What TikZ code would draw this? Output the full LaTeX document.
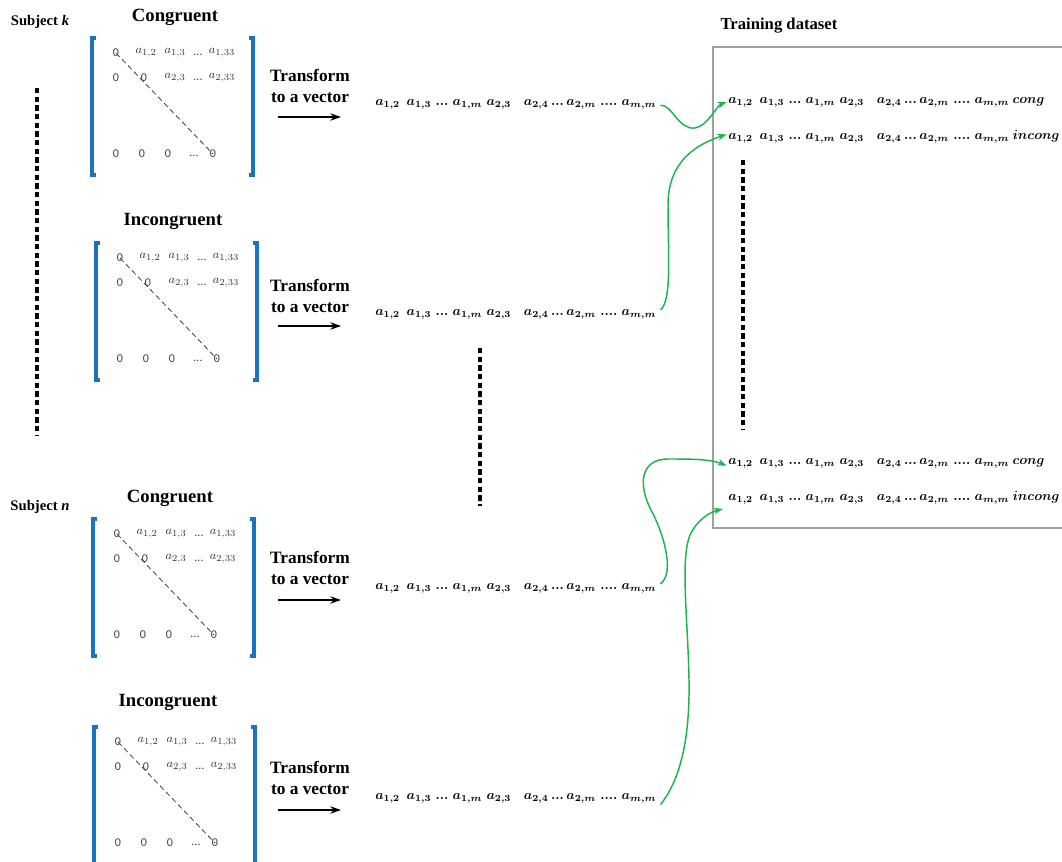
\documentclass[tikz,border=0pt]{standalone}
\usepackage{fontspec}
\usepackage{amsmath}
\setmainfont{Liberation Serif}
\newfontfamily\calib{Carlito}
\usetikzlibrary{arrows.meta}
\definecolor{bblue}{HTML}{1B72C0}
\definecolor{ggreen}{HTML}{1DB350}
\definecolor{boxgray}{HTML}{A0A0A0}
\tikzset{
  ttl/.style={font=\fontsize{12.5}{14}\selectfont\bfseries, inner sep=0},
  mttl/.style={font=\fontsize{14}{16}\selectfont\bfseries, inner sep=0},
  subj/.style={font=\fontsize{11}{13}\selectfont\bfseries, inner sep=0},
  vecrow/.style={anchor=west, font=\fontsize{10}{12}\selectfont\boldmath, inner sep=0},
  mel/.style={font=\fontsize{9}{10}\selectfont\calib, text=black!75, inner sep=0.5pt},
  mela/.style={font=\fontsize{9.5}{10}\selectfont, text=black!80, inner sep=0.5pt},
  bracket/.style={draw=bblue, line width=2.3pt},
  tarrow/.style={-{Stealth[length=8pt,width=5.5pt]}, line width=1.3pt},
  garrow/.style={draw=ggreen, line width=1.1pt, -{Stealth[length=7pt,width=5pt]}},
  dotl/.style={line width=2.4pt, dash pattern=on 4pt off 2.5pt},
  diagl/.style={draw=black!75, line width=0.6pt, dash pattern=on 4pt off 2.5pt},
  trtext/.style={font=\fontsize{13}{15.5}\selectfont\bfseries, align=center, inner sep=0},
}
\newcommand\dts{{.}{.}{.}}
\newcommand\vecline{$a_{1,2}\;\,a_{1,3}\;\dts\;a_{1,m}\;a_{2,3}\;\;\;a_{2,4}\,\dts\,a_{2,m}\;\dts{.}\;a_{m,m}$}
\newcommand\mymat[3]{%
  \begin{scope}[shift={(#2,#3)}]
    \draw[bracket] (4,0) -- (0,0) -- (0,137) -- (4,137);
    \draw[bracket] (157,0) -- (161,0) -- (161,137) -- (157,137);
    \node[mel]  (#1z11) at (24,15) {0};
    \node[mela] (#1a12) at (54,15) {$a_{1,2}$};
    \node[mela] (#1a13) at (83,15) {$a_{1,3}$};
    \node[mel]  (#1d1)  at (106,17) {...};
    \node[mela] (#1a1n) at (130,15) {$a_{1,33}$};
    \node[mel]  (#1z21) at (24,40) {0};
    \node[mel]  (#1z22) at (52,40) {0};
    \node[mela] (#1a23) at (83,40) {$a_{2,3}$};
    \node[mel]  (#1d2)  at (106,42) {...};
    \node[mela] (#1a2n) at (130,40) {$a_{2,33}$};
    \node[mel]  (#1z31) at (24,116) {0};
    \node[mel]  (#1z32) at (50,116) {0};
    \node[mel]  (#1z33) at (76,116) {0};
    \node[mel]  (#1d3)  at (102,118) {...};
    \node[mel]  (#1z35) at (121,116) {0};
    \draw[diagl] (#1z11.center) -- (#1z35.center);
  \end{scope}}
\begin{document}
\begin{tikzpicture}[x=0.75pt,y=-0.75pt]
\useasboundingbox (0,0) rectangle (1062,862);

% subjects
\node[subj] (sk) at (40,22) {Subject \textit{k}};
\node[subj] (sn) at (40,507) {Subject \textit{n}};
\coordinate (dk1) at (37,88);
\coordinate (dk2) at (37,436);
\draw[dotl] (dk1) -- (dk2);

% titles
\node[mttl] (h1) at (175,17) {Congruent};
\node[mttl] (h2) at (173,221) {Incongruent};
\node[mttl] (h3) at (170,498) {Congruent};
\node[mttl] (h4) at (168,702) {Incongruent};

% matrices
\mymat{m1}{92}{38}
\mymat{m2}{96}{243}
\mymat{m3}{93}{519}
\mymat{m4}{94}{727}

% transform labels and arrows
\node[trtext] (tr1) at (310,86) {Transform\\to a vector};
\node[trtext] (tr2) at (310,296) {Transform\\to a vector};
\node[trtext] (tr3) at (310,568) {Transform\\to a vector};
\node[trtext] (tr4) at (310,778) {Transform\\to a vector};
\coordinate (ts1) at (278,117); \coordinate (te1) at (341,117);
\coordinate (ts2) at (278,326); \coordinate (te2) at (341,326);
\coordinate (ts3) at (278,600); \coordinate (te3) at (341,600);
\coordinate (ts4) at (278,810); \coordinate (te4) at (341,810);
\draw[tarrow] (ts1) -- (te1);
\draw[tarrow] (ts2) -- (te2);
\draw[tarrow] (ts3) -- (te3);
\draw[tarrow] (ts4) -- (te4);

% vectors
\node[vecrow] (v1) at (375,104) {\vecline};
\node[vecrow] (v2) at (375,314) {\vecline};
\node[vecrow] (v3) at (375,588) {\vecline};
\node[vecrow] (v4) at (375,798) {\vecline};

% middle dotted line
\coordinate (dm1) at (480,348);
\coordinate (dm2) at (480,506);
\draw[dotl] (dm1) -- (dm2);

% training dataset box
\node[ttl] (tdt) at (779,26) {Training dataset};
\coordinate (bx1) at (1062,47);
\coordinate (bx2) at (713,47);
\coordinate (bx3) at (713,528);
\coordinate (bx4) at (1062,528);
\draw[draw=boxgray, line width=1pt] (bx1) -- (bx2) -- (bx3) -- (bx4);

\node[vecrow] (t1) at (728,102) {\vecline\ $cong$};
\node[vecrow] (t2) at (728,137) {\vecline\ $incong$};
\node[vecrow] (t3) at (728,463) {\vecline\ $cong$};
\node[vecrow] (t4) at (728,498) {\vecline\ $incong$};
\coordinate (dt1) at (743,160);
\coordinate (dt2) at (743,430);
\draw[dotl] (dt1) -- (dt2);

% green arrows
\coordinate (g4e) at (723,509);
\draw[garrow] ([xshift=3pt,yshift=-1pt]v1.east) .. controls (672,104) and (678,130) .. (695,128)
  .. controls (708,126) and (716,106) .. ([xshift=-1pt]t1.west);
\draw[garrow] ([xshift=3pt,yshift=3pt]v2.east) .. controls (672,300) and (668,255) .. (668,205)
  .. controls (668,160) and (698,144) .. ([xshift=-1pt,yshift=2pt]t2.west);
\draw[garrow] ([xshift=3pt,yshift=3pt]v3.east) .. controls (676,572) and (662,530) .. (651,510)
  .. controls (638,485) and (640,459) .. (668,459) .. controls (690,459) and (710,459) .. ([xshift=-1pt,yshift=-2pt]t3.west);
\draw[garrow] ([xshift=3pt,yshift=-5pt]v4.east) .. controls (680,780) and (690,740) .. (689,680)
  .. controls (688,620) and (680,560) .. (690,535) .. controls (697,520) and (710,512) .. (g4e);
\end{tikzpicture}
\end{document}
